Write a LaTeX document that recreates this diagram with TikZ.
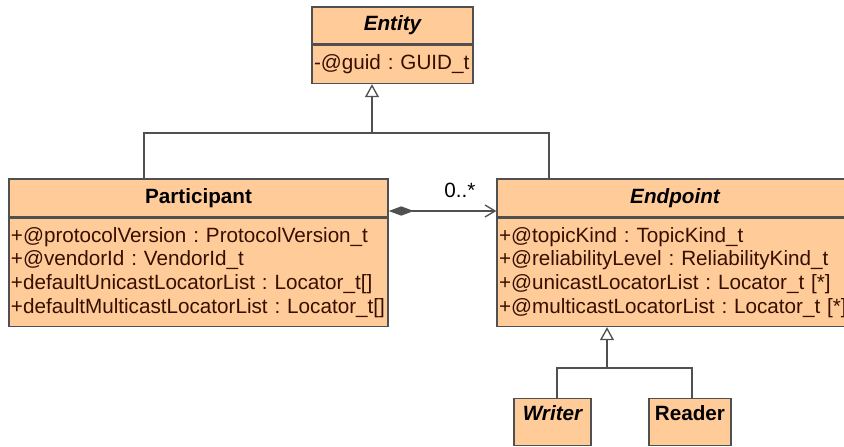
\documentclass[tikz,border=0pt]{standalone}
\usepackage{fontspec}
\setmainfont{Liberation Sans}
\usetikzlibrary{arrows.meta}
\frenchspacing

\definecolor{umlfill}{RGB}{255,204,153}
\definecolor{umlline}{RGB}{80,80,80}
\definecolor{umltext}{RGB}{55,15,0}

\begin{document}
\begin{tikzpicture}[x=0.75pt,y=0.75pt,yscale=-1,xscale=1,
  every node/.style={font=\fontsize{15.5}{17.75}\selectfont},
  classhead/.style={draw=umlline, fill=umlfill, line width=1.1pt, inner sep=0pt, minimum height=28.5pt, font=\fontsize{15.5}{17.75}\selectfont\bfseries},
  classattr/.style={draw=umlline, fill=umlfill, line width=1.1pt, inner xsep=1.5pt, inner ysep=0pt, anchor=north, align=left, text=umltext, execute at begin node={\hyphenpenalty=10000}},
  conn/.style={draw=umlline, line width=1pt},
  generalize/.style={conn, -{Triangle[open, length=9.75pt, width=10.5pt, fill=white]}}
]
\path[use as bounding box] (0,0) rectangle (844,447);

%Class Entity
\node [classhead, font=\fontsize{15.5}{17.75}\selectfont\bfseries\itshape, minimum width=120.75pt, minimum height=27.75pt] (Entity) at (392.5,25.5) {Entity};
\node [classattr, minimum width=120.75pt, minimum height=28.5pt, text width=117.75pt] (EntityAttr) at (Entity.south) {-@guid : GUID\_t};

%Class Participant
\node [classhead, minimum width=284.25pt] (Participant) at (198.5,198) {Participant};
\node [classattr, minimum width=284.25pt, minimum height=81pt, text width=281.25pt] (ParticipantAttr) at (Participant.south) {+@protocolVersion : ProtocolVersion\_t\\+@vendorId : VendorId\_t\\+defaultUnicastLocatorList : Locator\_t[]\\+defaultMulticastLocatorList : Locator\_t[]};

%Class Endpoint
\node [classhead, font=\fontsize{15.5}{17.75}\selectfont\bfseries\itshape, minimum width=267pt] (Endpoint) at (675,198) {Endpoint};
\node [classattr, minimum width=267pt, minimum height=81pt, text width=264pt] (EndpointAttr) at (Endpoint.south) {+@topicKind : TopicKind\_t\\+@reliabilityLevel : ReliabilityKind\_t\\+@unicastLocatorList : Locator\_t [*]\\+@multicastLocatorList : Locator\_t [*]};

%Class Writer and Reader
\node [classhead, font=\fontsize{15.5}{17.75}\selectfont\bfseries\itshape, anchor=north, minimum width=57.75pt, minimum height=0pt, text height=16.5pt, text depth=18.75pt] (Writer) at (552.5,398) {Writer};
\node [classhead, anchor=north, minimum width=61.5pt, minimum height=0pt, text height=16.5pt, text depth=18.75pt] (Reader) at (690,398) {Reader};

%Generalization to Entity
\coordinate (genTop) at (372,133);
\coordinate (genLeft) at (144,133);
\coordinate (genRight) at (549,133);
\draw [conn] (Participant.north -| genLeft) -- (genLeft) -- (genRight) -- (Endpoint.north -| genRight);
\draw [generalize] (genTop) -- (EntityAttr.south -| genTop);

%Generalization to Endpoint
\coordinate (subTop) at (607,368);
\coordinate (subLeft) at (557,368);
\coordinate (subRight) at (692,368);
\draw [conn] (Writer.north -| subLeft) -- (subLeft) -- (subRight) -- (Reader.north -| subRight);
\draw [generalize] (subTop) -- (EndpointAttr.south -| subTop);

%Composition
\coordinate (assoc) at (440,211);
\draw [conn, {Diamond[length=18.75pt, width=7pt, fill=umlline]}-{Straight Barb[length=7.5pt, width=9pt]}] (Participant.east |- assoc) -- (Endpoint.west |- assoc);

% Text Node
\node (mult) at (460,190) {0..*};

\end{tikzpicture}
\end{document}
